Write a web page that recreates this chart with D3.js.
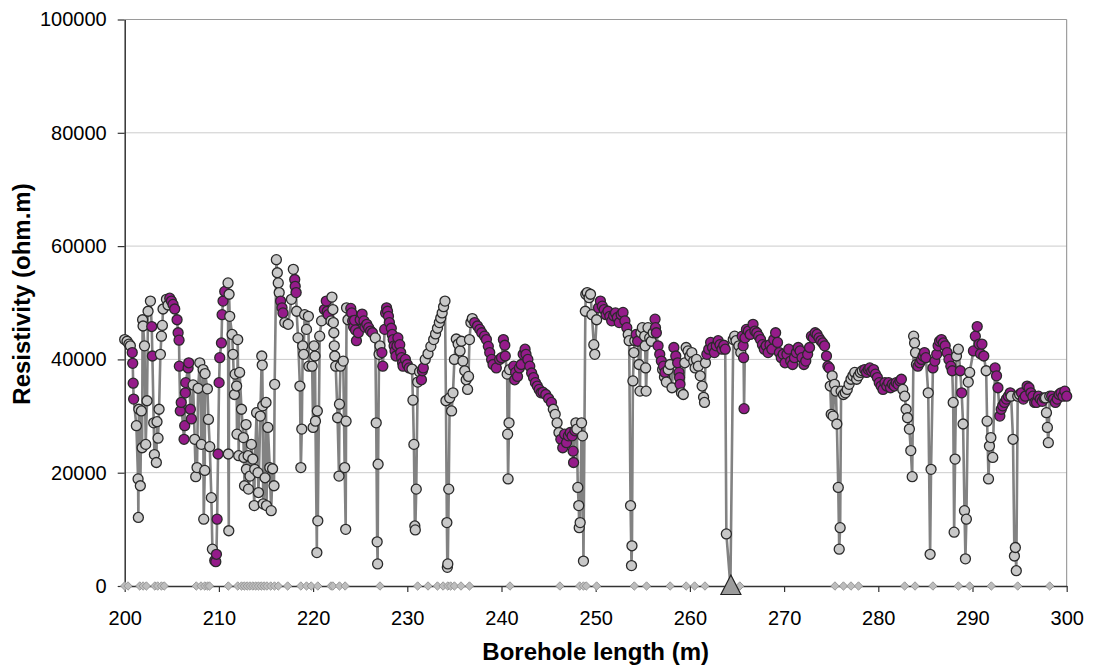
<!DOCTYPE html>
<html>
<head>
<meta charset="utf-8">
<script src="https://cdn.jsdelivr.net/npm/d3@7"></script>
<style>
  body { margin: 0; background: #fff; }
  svg text { font-family: "Liberation Sans", Arial, sans-serif; }
</style>
</head>
<body>
<svg width="1096" height="668"></svg>
<script>
// tick values
const xTicks = d3.range(200, 301, 10);
const yTicks = [0, 20000, 40000, 60000, 80000, 100000];

// readings: [borehole length m, resistivity ohm.m, flag] flag 1 = purple, 0 = grey, -1 = no marker
const seg200 = [
  [200.0,43500,0],[200.25,43200,0],[200.45,42700,0],[200.6,42400,0],[200.8,41200,1],[200.85,39300,1],[200.9,35800,1],[200.95,33000,1],
  [201.24,28300,0],[201.42,18900,0],[201.45,12100,0],[201.5,31200,0],[201.66,17700,0],[201.77,30900,0],[201.85,24400,0],[201.9,47000,0],
  [201.95,45900,0],[202.1,42400,0],[202.23,25000,0],[202.37,32700,0],[202.48,48500,0],[202.73,50300,0],[202.87,45800,1],[202.94,40600,1],
  [203.08,28800,0],[203.15,23200,0],[203.36,21800,0],[203.43,29000,0],[203.54,26100,0],[203.65,31200,0],[203.79,40900,0],[203.9,44100,0],
  [204.0,46000,0],[204.07,48900,0],[204.43,50600,0],[204.6,49600,0],
  [204.78,50800,1],[204.96,50300,1],[205.13,49700,1],[205.31,48900,1],[205.56,47000,1],[205.67,44700,1],[205.77,43400,1],[205.8,38800,1],
  [205.9,30900,1],[206.0,32400,1],[206.3,25900,1],[206.37,28300,1],[206.44,34100,1],[206.48,35900,1],[206.73,38500,1],[206.8,39400,1],
  [206.97,31200,1],[207.08,29500,1],
  [207.26,35500,0],[207.43,25900,0],[207.54,19300,0],[207.68,20900,0],[207.79,34900,0],[207.97,39400,0],[208.14,25000,0],[208.32,38200,0],
  [208.39,11800,0],[208.5,20400,0],[208.53,37500,0],[208.78,34800,0],[208.89,29400,0],[209.03,24600,0],[209.2,15600,0],[209.31,6500,0],
  [209.56,4500,1],[209.67,4300,1],[209.74,5600,1],[209.81,11800,1],[209.91,23300,1],[210.02,35900,1]
];
const seg210 = [
  [210.09,40300,1],[210.27,42900,1],[210.34,47900,1],[210.44,50300,1],[210.62,52000,1],
  [210.97,53500,0],[211.0,23300,0],[211.05,9750,0],[211.08,51500,0],[211.15,47600,0],[211.4,44400,0],[211.5,40900,0],[211.65,33800,0],
  [211.72,37400,0],[211.88,35300,0],[211.92,26800,0],[212.0,43500,0],[212.1,23000,0],[212.2,37700,0],[212.4,31200,0],[212.6,26200,0],
  [212.65,22700,0],[212.72,17700,0],[212.88,28500,0],[212.92,20600,0],[213.1,23000,0],[213.14,17100,0],[213.3,19400,0],[213.45,25000,0],
  [213.6,22400,0],[213.75,14200,0],[213.8,20600,0],[214.0,30600,0],[214.15,20000,0],[214.2,16500,0],[214.4,30000,0],[214.55,40600,0],
  [214.6,39000,0],[214.65,31800,0],[214.7,14500,0],[214.9,19100,0],[215.0,32400,0],[215.05,14200,0],[215.2,28000,0],[215.4,20900,0],
  [215.55,13300,0],[215.7,20700,0],[215.85,17700,0],[215.92,35600,0],[216.1,57600,0],[216.2,55300,0],[216.3,53500,0],[216.4,51800,0],
  [216.55,50300,1],[216.7,49100,1],[216.8,48200,1],[217.0,46500,0],[217.35,46200,0],[217.7,50600,0],[217.9,55900,0],[218.05,54100,1],
  [218.1,52900,1],[218.2,51800,1],[218.25,48500,0],[218.4,43800,0],[218.6,35300,0],[218.7,20900,0],[218.8,27700,0],[218.9,42400,0],
  [219.0,40900,0],[219.1,47900,0],[219.3,45300,0],[219.5,47600,0],[219.55,38800,0],[219.9,38800,0],[220.0,28000,0],[220.1,42400,0],
  [220.2,40600,0],[220.25,29100,0],[220.4,5900,0],[220.45,30900,0],[220.5,11500,0],[220.7,44100,0]
];
const seg220 = [
  [220.9,46800,0],[221.2,48800,1],[221.4,50300,1],[221.5,48500,1],[221.6,47900,1],[221.9,46800,0],[222.0,51000,0],[222.1,48800,0],
  [222.15,46500,0],[222.2,44700,0],[222.25,42400,0],[222.3,40600,0],[222.4,38800,0],[222.6,29700,0],[222.75,19400,0],[222.8,32100,0],
  [222.9,38800,0],[223.2,39700,0],[223.35,20900,0],[223.46,10000,0],[223.5,29100,0],[223.55,49100,0],[223.7,47000,0],
  [224.0,49000,1],[224.1,48200,1],[224.2,46800,1],[224.3,45700,1],[224.4,46900,1],[224.5,45200,1],[224.6,43300,1],[224.8,44700,1],
  [225.0,47000,1],[225.2,48000,1],[225.4,46800,1],[225.5,45700,1],[225.7,46200,1],[225.9,45600,1],[226.1,45000,1],[226.3,44700,1],
  [226.6,43800,0],[226.7,28800,0],[226.8,7800,0],[226.85,3900,0],[226.9,21500,0],[227.0,40900,0],[227.1,42400,0],[227.3,41200,1],
  [227.4,38800,1],[227.6,45300,1],[227.7,48200,1],[227.8,49100,1],[227.9,48500,1],[228.0,47600,1],[228.1,46500,1],[228.3,45500,1],
  [228.4,44400,1],[228.5,43500,1],[228.6,42400,1],[228.7,41500,1],[228.8,40600,1],[228.9,42400,1],[229.0,43800,1],[229.2,42600,1],
  [229.3,41200,1],[229.4,40300,1],[229.5,39400,1],[229.55,38800,1],[229.8,40000,1],[230.0,39100,1],[230.2,38500,1]
];
const seg230 = [
  [230.5,38300,0],[230.6,32800,0],[230.7,25000,0],[230.8,10600,0],[230.85,9900,0],[230.95,17100,0],[231.1,36000,0],[231.3,37800,0],
  [231.5,36400,1],[231.6,38000,1],[231.7,38500,1],[231.9,40000,0],[232.2,41000,0],[232.5,42300,0],[232.8,43500,0],[233.0,44500,0],
  [233.2,45500,0],[233.4,46500,0],[233.55,47300,0],[233.7,48200,0],[233.85,49300,0],[234.0,50300,0],[234.1,32700,0],[234.2,11200,0],
  [234.25,3300,0],[234.3,3900,0],[234.4,17100,0],[234.5,33200,0],[234.7,30900,0],[234.85,34100,0],[235.0,40000,0],[235.2,43600,0],
  [235.4,42700,0],[235.6,41500,0],[235.75,43200,0],[235.9,39700,0],[236.1,38000,0],[236.25,36400,0],[236.4,34700,0],[236.5,37000,0],
  [236.6,43500,0],[236.75,46500,0],[236.9,47200,0],
  [237.15,46500,1],[237.45,45900,1],[237.7,45300,1],[237.9,44700,1],[238.2,44100,1],[238.4,43500,1],[238.6,42300,1],[238.75,41200,1],
  [238.95,40000,1],[239.1,39100,1],[239.45,38500,1],[239.8,40000,1],[240.0,40300,1],[240.2,43500,1],[240.35,42500,1],[240.4,40600,1],
  [240.6,37400,0],[240.65,26800,0],[240.7,18900,0],[240.8,28800,0],[240.85,38200,0]
];
const seg240 = [
  [241.3,38800,1],[241.4,36400,1],[241.5,37700,1],[241.7,37000,1],[241.9,38500,1],[242.1,39100,1],[242.3,40900,1],[242.5,41800,1],
  [242.6,40900,1],[242.8,40000,1],[243.0,38800,1],[243.2,37600,1],[243.4,36800,1],[243.6,35900,1],[243.8,35300,1],[244.0,34700,1],
  [244.2,34100,1],[244.4,34200,1],[244.7,33800,1],[245.0,33100,1],[245.3,32400,1],[245.5,31200,0],[245.7,30300,0],[245.9,28800,0],
  [246.1,27100,0],[246.3,25900,1],[246.5,24400,1],[246.7,26800,1],[246.9,25300,1],[247.1,26500,1],[247.3,27100,1],[247.5,26500,1],
  [247.6,23800,1],[247.65,21800,1],[247.8,27400,1],[247.9,28800,0],[248.0,27700,0],[248.1,17400,0],[248.2,14200,0],[248.25,10300,0],
  [248.35,11200,0],[248.5,28800,0],[248.6,26500,0],[248.7,4400,0],[248.9,48500,0],[248.95,51500,0],[249.1,51800,0],[249.3,50900,0],
  [249.45,51500,0],[249.6,47900,0],[249.8,42600,0],[249.9,40900,0]
];
const seg250 = [
  [250.1,47000,0],[250.3,49100,1],[250.5,50300,1],[250.7,49400,1],[250.9,48800,1],[251.1,47900,1],[251.3,48500,1],[251.5,47600,1],
  [251.7,46800,1],[251.9,47700,1],[252.1,48200,1],[252.3,47400,1],[252.5,46500,1],[252.7,47900,1],[252.9,48300,1],[253.1,46800,1],
  [253.3,45600,1],[253.45,44400,0],[253.55,43300,0],[253.7,14200,0],[253.8,3600,0],[253.85,7100,0],[253.95,36200,0],[254.05,41200,0],
  [254.15,43300,0],[254.3,44400,1],[254.45,43200,1],[254.6,39100,0],[254.7,34400,0],[254.8,44700,0],[254.95,45600,0],
  [255.2,44100,0],[255.25,42400,0],[255.3,38500,0],[255.35,34400,0],[255.55,45600,0],[255.73,43800,0],[255.9,43200,0],[256.1,44700,0],
  [256.3,47100,1],[256.35,45600,1],[256.44,44700,1],[256.62,42400,1],[256.8,40900,1],[256.97,39700,1],[257.1,38200,0],[257.2,38800,1],
  [257.3,36900,0],[257.35,37700,1],[257.5,36000,0],[257.7,38200,0],[257.9,39100,0],[258.1,35000,0],[258.3,42100,1],[258.5,40600,1],
  [258.7,39400,1],[258.85,37700,1],[258.9,36800,1],[258.95,35600,1],[259.1,34100,0],[259.3,33800,0],[259.45,39400,0],[259.6,42100,0],
  [259.8,41500,0]
];
const seg260 = [
  [260.0,40600,0],[260.2,41200,0],[260.4,39700,0],[260.55,38500,0],[260.7,40000,0],[260.9,38800,0],[261.1,37100,0],[261.3,35300,0],
  [261.45,33300,0],[261.55,32400,0],[261.65,39400,0],[261.8,40900,1],[262.0,41800,1],[262.2,43000,1],[262.4,42100,1],[262.6,41200,1],
  [262.8,42400,1],[263.0,43300,1],[263.2,42600,1],[263.4,41800,1],[263.6,42500,1],[263.75,41800,1],[263.87,9200,0],[264.3,0,-1],
  [264.6,43500,0],[264.75,44100,0],[264.9,43300,0],[265.2,42400,0],[265.4,41200,0],[265.55,44100,1],[265.65,42400,1],[265.7,40300,1],
  [265.75,31300,1],[265.85,43800,1],[266.0,45300,1],[266.2,45000,1],[266.4,44400,1],
  [266.7,46200,1],[266.9,45000,1],[267.1,44700,1],[267.3,44100,1],[267.5,43500,1],[267.7,42600,1],[267.9,41800,1],[268.1,42400,1],
  [268.3,41200,1],[268.5,42600,1],[268.7,41800,1],[268.9,43500,1],[269.1,44700,1],[269.3,43000,1],[269.5,41200,1],[269.7,40300,1],
  [269.9,40900,1]
];
const seg270 = [
  [270.1,39400,1],[270.3,40900,1],[270.5,41800,1],[270.7,39700,1],[270.9,39100,1],[271.1,40300,1],[271.3,41200,1],[271.5,42100,1],
  [271.7,41500,1],[271.9,40300,1],[272.1,39100,1],[272.3,39700,1],[272.5,40900,1],[272.7,42100,1],[272.9,44100,1],[273.1,43800,1],
  [273.3,44700,1],[273.5,44400,1],[273.7,43800,1],[273.9,43300,1],[274.1,42900,1],[274.3,42400,1],[274.5,40600,1],[274.65,38800,1],
  [274.8,38500,1],[274.9,35300,0],[275.0,30300,0],[275.1,37100,0],[275.2,30000,0],[275.35,35600,0],[275.5,34400,0],[275.6,28600,0],
  [275.75,17400,0],[275.85,6500,0],[275.95,10300,0],[276.05,34400,0],[276.3,33800,0],[276.5,34100,0],[276.7,34700,0],[276.9,35600,0],
  [277.1,36500,0],[277.3,37100,0],[277.5,37700,0],[277.7,36500,0],[277.9,37100,0],[278.1,37700,0],[278.3,38000,0],[278.55,38200,1],
  [278.75,37700,1],[278.95,38200,1],[279.1,38500,1],[279.3,37900,1],[279.5,38200,1],[279.7,37400,1],[279.9,36800,1]
];
const seg280 = [
  [280.1,35900,1],[280.3,35300,1],[280.5,34700,1],[280.7,35900,1],[280.9,35300,1],[281.1,35900,1],[281.3,35000,1],[281.5,35600,1],
  [281.7,35300,1],[281.9,35900,1],[282.1,35600,1],[282.3,36200,1],[282.45,36500,1],[282.6,34700,0],[282.8,33500,0],[282.95,31200,0],
  [283.1,29700,0],[283.3,27700,0],[283.45,23900,0],[283.6,19300,0],[283.75,44100,0],[283.85,42900,0],[283.95,41200,0],[284.05,39100,0],
  [284.2,38800,1],[284.4,39400,1],[284.6,40000,1],[284.75,40600,1],[284.9,41200,1],[285.05,40300,1],[285.3,34100,0],[285.5,5600,0],
  [285.6,20600,0],[285.8,38500,1],[286.0,39700,1],[286.2,40900,1],[286.35,42400,1],[286.5,43200,1],[286.7,43500,1],[286.9,42900,1],
  [287.1,42400,1],[287.3,41200,1],[287.5,40000,1],[287.7,38800,1],[287.85,38000,1],[287.95,32400,0],[288.05,9500,0],[288.15,22400,0],
  [288.3,40600,0],[288.5,41800,0],[288.7,38000,1],[288.85,34100,1],[289.0,28600,0],[289.15,13300,0],[289.25,4800,0],[289.35,11800,0],
  [289.55,36000,0],[289.7,37700,0]
];
const seg290 = [
  [290.1,41500,1],[290.3,44100,1],[290.5,45800,1],[290.7,42700,1],[290.85,41000,1],[291.0,42700,1],[291.2,40600,1],[291.45,38000,0],
  [291.55,29100,0],[291.7,18900,0],[291.8,24700,0],[291.95,26200,0],[292.15,22700,0],[292.4,38500,1],[292.55,37100,1],[292.7,35000,1],
  [292.9,30000,1],[293.05,31200,1],[293.2,31800,1],[293.4,32400,1],[293.6,33000,1],[293.8,33500,1],[294.0,34100,1],[294.1,33500,0],
  [294.3,25900,0],[294.45,5300,0],[294.55,6800,0],[294.65,2700,0],[294.8,33500,0],[295.0,33800,0],[295.2,34100,1],[295.4,33000,1],
  [295.6,33500,1],[295.8,35300,1],[296.0,35000,1],[296.2,34100,1],[296.4,33500,1],[296.6,32400,1],[296.8,32400,1],[297.0,33500,1],
  [297.2,33000,1],[297.4,32600,1],[297.6,33200,1],[297.75,33200,0],[297.85,30600,0],[297.95,28000,0],[298.05,25300,0],[298.2,33500,0],
  [298.4,33500,1],[298.6,33000,1],[298.8,32400,1],[299.0,33000,1],[299.2,33800,1],[299.4,34100,1],[299.6,33500,1],[299.8,34400,1],
  [300.0,33500,1]
];

// positions of the small markers along the zero line
const zeroMarks = [
  200.0, 200.35, 201.6, 201.95, 202.3, 203.2, 203.5, 203.9, 204.2, 207.6, 208.1, 208.5, 208.8, 209.0,
  211.0, 212.0, 212.4, 212.7, 213.0, 213.3, 213.6, 213.9, 214.2, 214.5, 214.8, 215.1, 215.5, 215.9, 216.3,
  217.3, 218.7, 219.3, 219.8, 220.5, 221.9, 222.1, 222.8, 223.4, 227.1, 231.1, 232.2, 233.2,
  233.8, 234.3, 234.6, 235.0, 235.7, 236.6, 240.9, 246.2, 248.3, 248.7, 249.0, 250.1, 254.1, 255.4,
  257.9, 259.6, 260.5, 261.6, 265.3, 275.4, 276.3, 277.1, 277.9, 282.8, 283.9, 285.8, 288.5,
  289.7, 292.0, 294.8, 298.2
];
const triangleAt = 264.35;

const samples = [].concat(seg200, seg210, seg220, seg230, seg240, seg250, seg260, seg270, seg280, seg290)
  .sort((a, b) => a[0] - b[0]);

const svg = d3.select('svg');
const plot = {left: 124.7, right: 1066.7, top: 19.5, bottom: 586};

const x = d3.scaleLinear().domain([200, 300]).range([plot.left, plot.right]);
const y = d3.scaleLinear().domain([0, 100000]).range([plot.bottom, plot.top]);

// gridlines
svg.append('g').selectAll('line')
  .data(yTicks.filter(d => d > 0))
  .join('line')
  .attr('x1', plot.left).attr('x2', plot.right)
  .attr('y1', d => y(d)).attr('y2', d => y(d))
  .attr('stroke', d => d === 100000 ? '#9a9a9a' : '#cccccc')
  .attr('stroke-width', 1);

// right border of the plot area
svg.append('line')
  .attr('x1', plot.right).attr('x2', plot.right)
  .attr('y1', plot.top).attr('y2', plot.bottom)
  .attr('stroke', '#8a8a8a');

// axes
const yAxis = svg.append('g')
  .attr('transform', `translate(${plot.left},0)`)
  .call(d3.axisLeft(y).tickValues(yTicks).tickFormat(d3.format('d')).tickSize(7).tickSizeOuter(0).tickPadding(11));
const xAxis = svg.append('g')
  .attr('transform', `translate(0,${plot.bottom})`)
  .call(d3.axisBottom(x).tickValues(xTicks).tickFormat(d3.format('d')).tickSize(6).tickSizeOuter(0).tickPadding(19));

[yAxis, xAxis].forEach(g => {
  g.select('.domain').attr('stroke', '#333').attr('stroke-width', 1.5);
  g.selectAll('.tick line').attr('stroke', '#333').attr('stroke-width', 1.2);
  g.selectAll('.tick text')
    .attr('fill', '#000')
    .style('font-size', '20px')
    .style('font-family', '"Liberation Sans", Arial, sans-serif');
});

// axis titles
svg.append('text')
  .attr('x', (plot.left + plot.right) / 2)
  .attr('y', 660)
  .attr('text-anchor', 'middle')
  .style('font-size', '24px')
  .style('font-weight', 'bold')
  .text('Borehole length (m)');

svg.append('text')
  .attr('transform', 'translate(30,294) rotate(-90)')
  .attr('text-anchor', 'middle')
  .style('font-size', '24px')
  .style('font-weight', 'bold')
  .text('Resistivity (ohm.m)');

// connecting line
const lineFn = d3.line()
  .x(d => x(d[0]))
  .y(d => y(d[1]));

svg.append('path')
  .datum(samples)
  .attr('d', lineFn)
  .attr('fill', 'none')
  .attr('stroke', '#828282')
  .attr('stroke-width', 2.6)
  .attr('stroke-linejoin', 'round');

// markers
svg.append('g').selectAll('circle')
  .data(samples.filter(d => d[2] >= 0))
  .join('circle')
  .attr('cx', d => x(d[0]))
  .attr('cy', d => y(d[1]))
  .attr('r', 5)
  .attr('fill', d => d[2] === 1 ? '#951b8a' : '#c8c8c8')
  .attr('stroke', '#2a2a2a')
  .attr('stroke-width', 1.3);

// zero line diamonds
svg.append('g').selectAll('path')
  .data(zeroMarks)
  .join('path')
  .attr('transform', d => `translate(${x(d)},${y(0)})`)
  .attr('d', 'M0,-4.2L4.2,0L0,4.2L-4.2,0Z')
  .attr('fill', '#bdbdbd')
  .attr('stroke', '#999')
  .attr('stroke-width', 1);

// triangle marker
svg.append('path')
  .attr('transform', `translate(${x(triangleAt)},${y(0)})`)
  .attr('d', 'M0,-11L10,8.5L-10,8.5Z')
  .attr('fill', '#9c9c9c')
  .attr('stroke', '#222')
  .attr('stroke-width', 1.2);
</script>
</body>
</html>
